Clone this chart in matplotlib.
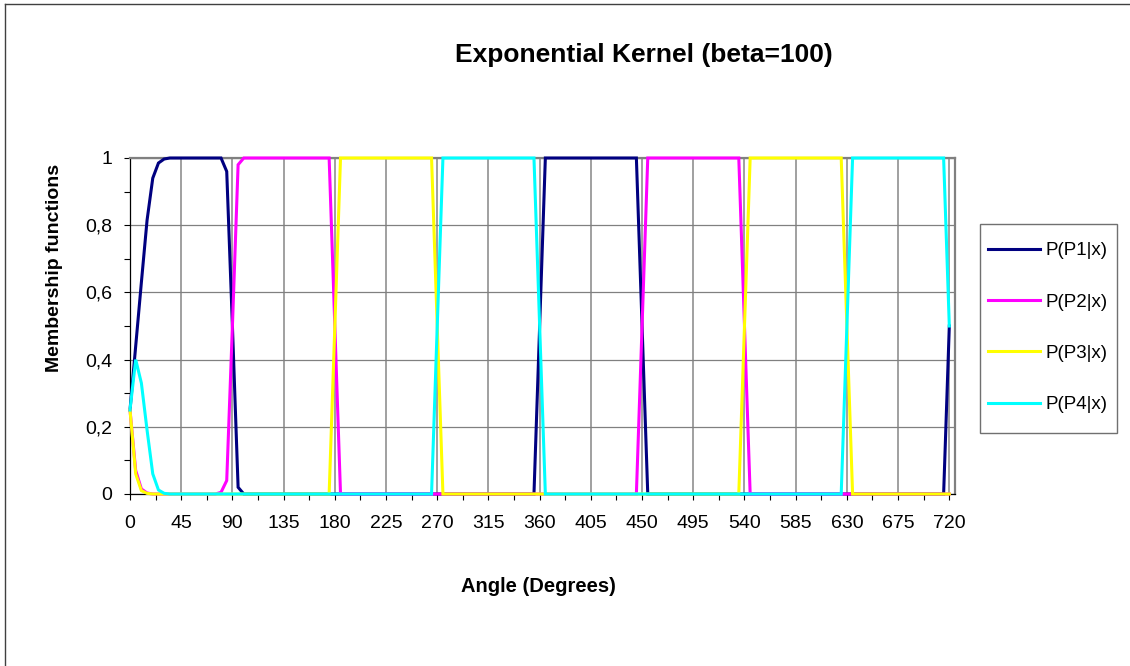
import matplotlib
matplotlib.use("Agg")
import matplotlib.pyplot as plt
from matplotlib.patches import Rectangle
from matplotlib.lines import Line2D
from matplotlib.ticker import MultipleLocator

plt.rcParams['font.family'] = ['Liberation Sans', 'DejaVu Sans']

# angle samples (degrees), one every 5
angles = list(range(0, 725, 5))

# membership values, one row per 45 degrees (last value = 720)
p1 = [0.25, 0.44, 0.63, 0.815, 0.94, 0.985, 0.997, 1, 1,
      1, 1, 1, 1, 1, 1, 1, 1, 0.96,
      0.5, 0.02, 0, 0, 0, 0, 0, 0, 0,
      0, 0, 0, 0, 0, 0, 0, 0, 0,
      0, 0, 0, 0, 0, 0, 0, 0, 0,
      0, 0, 0, 0, 0, 0, 0, 0, 0,
      0, 0, 0, 0, 0, 0, 0, 0, 0,
      0, 0, 0, 0, 0, 0, 0, 0, 0,
      0.5, 1, 1, 1, 1, 1, 1, 1, 1,
      1, 1, 1, 1, 1, 1, 1, 1, 1,
      0.5, 0, 0, 0, 0, 0, 0, 0, 0,
      0, 0, 0, 0, 0, 0, 0, 0, 0,
      0, 0, 0, 0, 0, 0, 0, 0, 0,
      0, 0, 0, 0, 0, 0, 0, 0, 0,
      0, 0, 0, 0, 0, 0, 0, 0, 0,
      0, 0, 0, 0, 0, 0, 0, 0, 0,
      0.5]

p2 = [0.25, 0.07, 0.015, 0.003, 0, 0, 0, 0, 0,
      0, 0, 0, 0, 0, 0, 0, 0.005, 0.04,
      0.5, 0.98, 1, 1, 1, 1, 1, 1, 1,
      1, 1, 1, 1, 1, 1, 1, 1, 1,
      0.5, 0, 0, 0, 0, 0, 0, 0, 0,
      0, 0, 0, 0, 0, 0, 0, 0, 0,
      0, 0, 0, 0, 0, 0, 0, 0, 0,
      0, 0, 0, 0, 0, 0, 0, 0, 0,
      0, 0, 0, 0, 0, 0, 0, 0, 0,
      0, 0, 0, 0, 0, 0, 0, 0, 0,
      0.5, 1, 1, 1, 1, 1, 1, 1, 1,
      1, 1, 1, 1, 1, 1, 1, 1, 1,
      0.5, 0, 0, 0, 0, 0, 0, 0, 0,
      0, 0, 0, 0, 0, 0, 0, 0, 0,
      0, 0, 0, 0, 0, 0, 0, 0, 0,
      0, 0, 0, 0, 0, 0, 0, 0, 0,
      0]

p3 = [0.25, 0.06, 0.01, 0.002, 0, 0, 0, 0, 0,
      0, 0, 0, 0, 0, 0, 0, 0, 0,
      0, 0, 0, 0, 0, 0, 0, 0, 0,
      0, 0, 0, 0, 0, 0, 0, 0, 0,
      0.5, 1, 1, 1, 1, 1, 1, 1, 1,
      1, 1, 1, 1, 1, 1, 1, 1, 1,
      0.5, 0, 0, 0, 0, 0, 0, 0, 0,
      0, 0, 0, 0, 0, 0, 0, 0, 0,
      0, 0, 0, 0, 0, 0, 0, 0, 0,
      0, 0, 0, 0, 0, 0, 0, 0, 0,
      0, 0, 0, 0, 0, 0, 0, 0, 0,
      0, 0, 0, 0, 0, 0, 0, 0, 0,
      0.5, 1, 1, 1, 1, 1, 1, 1, 1,
      1, 1, 1, 1, 1, 1, 1, 1, 1,
      0.5, 0, 0, 0, 0, 0, 0, 0, 0,
      0, 0, 0, 0, 0, 0, 0, 0, 0,
      0]

p4 = [0.25, 0.40, 0.33, 0.19, 0.06, 0.012, 0.002, 0, 0,
      0, 0, 0, 0, 0, 0, 0, 0, 0,
      0, 0, 0, 0, 0, 0, 0, 0, 0,
      0, 0, 0, 0, 0, 0, 0, 0, 0,
      0, 0, 0, 0, 0, 0, 0, 0, 0,
      0, 0, 0, 0, 0, 0, 0, 0, 0,
      0.5, 1, 1, 1, 1, 1, 1, 1, 1,
      1, 1, 1, 1, 1, 1, 1, 1, 1,
      0.5, 0, 0, 0, 0, 0, 0, 0, 0,
      0, 0, 0, 0, 0, 0, 0, 0, 0,
      0, 0, 0, 0, 0, 0, 0, 0, 0,
      0, 0, 0, 0, 0, 0, 0, 0, 0,
      0, 0, 0, 0, 0, 0, 0, 0, 0,
      0, 0, 0, 0, 0, 0, 0, 0, 0,
      0.5, 1, 1, 1, 1, 1, 1, 1, 1,
      1, 1, 1, 1, 1, 1, 1, 1, 1,
      0.5]

labels = ['P(P1|x)', 'P(P2|x)', 'P(P3|x)', 'P(P4|x)']
colors = ['#000080', '#ff00ff', '#ffff00', '#00ffff']
xticks = list(range(0, 721, 45))
yticks = [0, 0.2, 0.4, 0.6, 0.8, 1]
ytick_labels = ['0', '0,2', '0,4', '0,6', '0,8', '1']

W, H = 1130, 666
fig = plt.figure(figsize=(W / 100, H / 100), dpi=100)
ax = fig.add_axes([130 / W, 1 - 494 / H, 825 / W, 336 / H])

handles = []
for series, lab, col in zip([p1, p2, p3, p4], labels, colors):
    ln, = ax.plot(angles, series, color=col, lw=2.2, label=lab,
                  clip_on=False, zorder=3, solid_joinstyle='miter')
    handles.append(ln)

ax.set_xlim(0, 725)
ax.set_ylim(0, 1)
ax.set_xticks(xticks)
ax.set_xticklabels([str(t) for t in xticks])
ax.xaxis.set_minor_locator(MultipleLocator(22.5))
ax.set_yticks(yticks)
ax.set_yticklabels(ytick_labels)
ax.yaxis.set_minor_locator(MultipleLocator(0.1))
ax.tick_params(which='both', direction='out', length=4, width=0.8,
               color='black', labelsize=14)
ax.tick_params(axis='x', pad=11)
ax.tick_params(axis='y', pad=9)

ax.grid(axis='x', which='major', color='#999999', lw=1.3)
ax.grid(axis='y', which='major', color='#808080', lw=0.9)
ax.set_axisbelow(True)

for side in ['top', 'right']:
    ax.spines[side].set_color('#808080')
    ax.spines[side].set_linewidth(1.6)
for side in ['left', 'bottom']:
    ax.spines[side].set_color('black')
    ax.spines[side].set_linewidth(0.9)

fig.text(644 / W, 1 - 55 / H, 'Exponential Kernel (beta=100)',
         ha='center', va='center', fontsize=19, fontweight='bold')
fig.text(538 / W, 1 - 587 / H, 'Angle (Degrees)',
         ha='center', va='center', fontsize=14.5, fontweight='bold')
fig.text(55 / W, 1 - 268 / H, 'Membership functions', rotation=90,
         ha='center', va='center', fontsize=14, fontweight='bold')

fig.legend(handles, labels, loc='upper left',
           bbox_to_anchor=(988 / W, 1 - 242 / H), bbox_transform=fig.transFigure,
           frameon=False, borderpad=0, borderaxespad=0, handlelength=2.77,
           handletextpad=0.32, labelspacing=1.83, fontsize=13.5)
fig.add_artist(Rectangle((980 / W, 1 - 433 / H), 137 / W, 209 / H,
                         transform=fig.transFigure, fill=False,
                         edgecolor='#707070', lw=1))

# outer chart border (left and top visible)
fig.add_artist(Line2D([5 / W, 5 / W], [0, 1 - 4 / H], transform=fig.transFigure,
                      color='#404040', lw=1))
fig.add_artist(Line2D([5 / W, 1], [1 - 4 / H, 1 - 4 / H], transform=fig.transFigure,
                      color='#404040', lw=1))

fig.savefig('out.png', dpi=100)
